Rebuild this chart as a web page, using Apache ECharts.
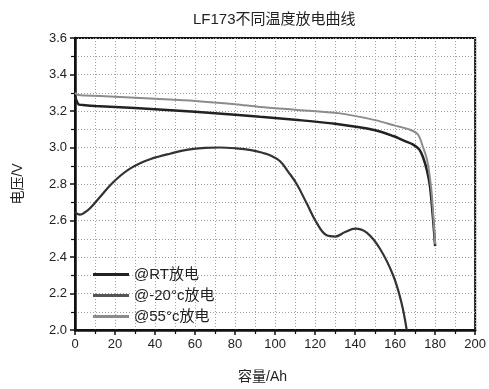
<!DOCTYPE html>
<html>
<head>
<meta charset="utf-8">
<script src="https://cdn.jsdelivr.net/npm/echarts@6/dist/echarts.min.js"></script>
<style>
    html, body { margin: 0; padding: 0; background: #fff; }
    #main { width: 489px; height: 389px; }
</style>
</head>
<body>
<div id="main"></div>
<script>
//容量 (Ah) 与电压 (V)
var rtCap = [0, 1, 2, 5, 10, 20, 40, 60, 80, 92.5, 110, 130, 150, 159, 165, 169, 172, 174, 176, 177.5, 179, 180];
var rtVolt = [3.28, 3.25, 3.235, 3.232, 3.228, 3.222, 3.21, 3.196, 3.18, 3.168, 3.152, 3.13, 3.095, 3.063, 3.035, 3.016, 2.99, 2.945, 2.87, 2.78, 2.6, 2.46];

var lowCap = [0, 1, 2.5, 5, 7.5, 12.5, 17.5, 22.5, 27.5, 32.5, 37.5, 47.5, 56.5, 65, 72, 80, 88, 94, 98, 102.5, 106.5, 110.8, 115.8, 120.8, 125.8, 130, 135, 140, 145.8, 152.5, 159, 163, 165.8];
var lowVolt = [2.645, 2.637, 2.632, 2.645, 2.667, 2.729, 2.792, 2.844, 2.884, 2.914, 2.936, 2.966, 2.988, 2.998, 3.0, 2.996, 2.986, 2.97, 2.955, 2.925, 2.868, 2.80, 2.694, 2.587, 2.519, 2.512, 2.537, 2.555, 2.533, 2.444, 2.30, 2.157, 2.0];

var highCap = [0, 1, 3, 5, 20, 40, 60, 80, 92.5, 110, 132.5, 150, 160, 167.5, 171.5, 174, 176, 178, 179, 180];
var highVolt = [3.30, 3.29, 3.286, 3.285, 3.278, 3.267, 3.255, 3.237, 3.222, 3.207, 3.187, 3.15, 3.12, 3.097, 3.07, 3.0, 2.93, 2.78, 2.64, 2.47];

var seriesNames = ['@RT放电', '@-20°c放电', '@55°c放电'];

function pairs(xs, ys) {
    var out = [];
    for (var i = 0; i < xs.length; i++) {
        out.push([xs[i], ys[i]]);
    }
    return out;
}

var dotted = { show: true, lineStyle: { color: '#a0a0a0', type: [1, 2], width: 1 } };

var option = {
    backgroundColor: '#fff',
    textStyle: { fontFamily: 'Liberation Sans, Noto Sans CJK SC, sans-serif' },
    title: {
        text: 'LF173不同温度放电曲线',
        left: 188,
        top: 7,
        textStyle: { color: '#222', fontSize: 15, fontWeight: 'normal' }
    },
    legend: {
        orient: 'vertical',
        left: 88,
        top: 262,
        icon: 'rect',
        itemWidth: 36,
        itemHeight: 3,
        itemGap: 6,
        textStyle: { color: '#222', fontSize: 15 },
        data: seriesNames
    },
    grid: {
        left: 75, right: 12, top: 38, bottom: 53,
        show: true,
        borderColor: '#111',
        borderWidth: 2
    },
    xAxis: {
        type: 'value',
        min: 0, max: 200, interval: 20,
        name: '容量/Ah',
        nameLocation: 'middle',
        nameGap: 40,
        nameTextStyle: { color: '#222', fontSize: 14, padding: [0, 25, 0, 0] },
        axisLine: { show: true, lineStyle: { color: '#111', width: 2.5 } },
        axisTick: { show: true, length: 5, lineStyle: { color: '#111', width: 1.5 } },
        minorTick: { show: true, splitNumber: 2, length: 4, lineStyle: { color: '#111', width: 1.2 } },
        axisLabel: { color: '#222', fontSize: 13, margin: 8 },
        splitLine: dotted,
        minorSplitLine: dotted
    },
    yAxis: {
        type: 'value',
        min: 2.0, max: 3.6, interval: 0.2,
        name: '电压/V',
        nameLocation: 'middle',
        nameGap: 50,
        nameTextStyle: { color: '#222', fontSize: 14 },
        axisLine: { show: true, lineStyle: { color: '#111', width: 2.5 } },
        axisTick: { show: true, length: 5, lineStyle: { color: '#111', width: 1.5 } },
        minorTick: { show: true, splitNumber: 2, length: 4, lineStyle: { color: '#111', width: 1.2 } },
        axisLabel: {
            color: '#222', fontSize: 13, margin: 8,
            formatter: function (v) { return v.toFixed(1); }
        },
        splitLine: dotted,
        minorSplitLine: dotted
    },
    series: [
        {
            name: seriesNames[0],
            type: 'line',
            smooth: 0.3,
            symbol: 'none',
            lineStyle: { color: '#222', width: 2.5 },
            itemStyle: { color: '#222' },
            data: pairs(rtCap, rtVolt)
        },
        {
            name: seriesNames[1],
            type: 'line',
            smooth: 0.4,
            symbol: 'none',
            lineStyle: { color: '#333', width: 2.2 },
            itemStyle: { color: '#555' },
            data: pairs(lowCap, lowVolt)
        },
        {
            name: seriesNames[2],
            type: 'line',
            smooth: 0.3,
            symbol: 'none',
            lineStyle: { color: '#8c8c8c', width: 2 },
            itemStyle: { color: '#8c8c8c' },
            data: pairs(highCap, highVolt)
        }
    ]
};

var chart = echarts.init(document.getElementById('main'));
chart.setOption(option);
</script>
</body>
</html>
